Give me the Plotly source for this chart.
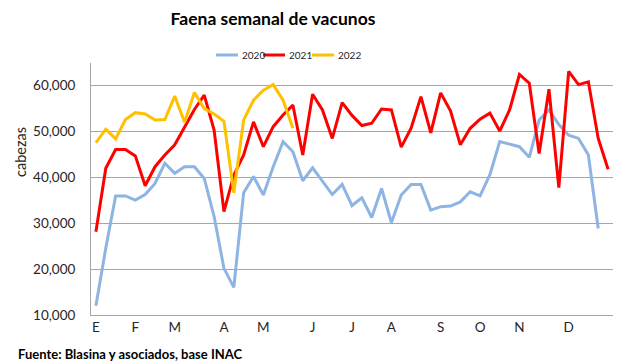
import plotly.graph_objects as go

weeks_2020 = list(range(52))
weeks_2021 = list(range(53))
weeks_2022 = list(range(21))

v2020 = [12000, 24500, 35900, 35900, 35000, 36200, 38600, 43000, 40800, 42250,
         42250, 39700, 31400, 20150, 16000, 36600, 40100, 36100, 42250, 47700,
         45500, 39200, 42000, 39200, 36200, 38400, 33800, 35500, 31200, 37500,
         30100, 36100, 38400, 38400, 32800, 33550, 33700, 34600, 36800, 35900,
         40500, 47700, 47100, 46600, 44300, 52400, 54600, 51400, 49100, 48400,
         44800, 28800]

v2021 = [28100, 41900, 46000, 46000, 44600, 38100, 42250, 44800, 47000, 50950,
         54700, 57800, 50200, 32500, 40400, 44800, 52000, 46600, 50950, 53500,
         55650, 44800, 58000, 54600, 48400, 56200, 53400, 51200, 51700, 54800,
         54600, 46500, 50600, 57500, 49600, 58300, 54400, 47000, 50600, 52600,
         53900, 50000, 54600, 62300, 60400, 45100, 59100, 37700, 63000, 60100,
         60700, 48400, 41700]

v2022 = [47500, 50400, 48300, 52500, 54000, 53700, 52400, 52500, 57600, 51900,
         58400, 54900, 53700, 52100, 36600, 52400, 56700, 58900, 60100, 56700,
         50600]

tick_weeks = [0, 4, 8, 13, 17, 22, 26, 30, 35, 39, 43, 48]
tick_labels = ["E", "F", "M", "A", "M", "J", "J", "A", "S", "O", "N", "D"]
y_ticks = [10000, 20000, 30000, 40000, 50000, 60000]

series_names = ["2020", "2021", "2022"]
series_colors = ["#8DB4E2", "#FF0000", "#FFC000"]

FONT = "Lato"
TXT = "#262626"
W, H = 640, 364
L, R, T, B = 91, 27, 63, 49
PW, PH = W - L - R, H - T - B


def px_x(px):
    return (px - L) / PW


def px_y(py):
    return (H - B - py) / PH


fig = go.Figure()
for xs, ys, name, color in zip([weeks_2020, weeks_2021, weeks_2022],
                               [v2020, v2021, v2022], series_names, series_colors):
    fig.add_trace(go.Scatter(x=xs, y=ys, mode="lines", name=name,
                             line=dict(color=color, width=3)))

fig.update_layout(
    width=W, height=H,
    margin=dict(l=L, r=R, t=T, b=B),
    paper_bgcolor="white", plot_bgcolor="white",
    font=dict(family=FONT, color=TXT, size=13),
    title=dict(text="<b>Faena semanal de vacunos</b>", x=273/W, xanchor="center",
               xref="container", y=1-19/H, yref="container", yanchor="middle",
               font=dict(family=FONT, size=17.5, color="#000000")),
    showlegend=False,
)
fig.update_xaxes(range=[-0.5, 52.5], tickvals=tick_weeks, ticktext=tick_labels,
                 showgrid=False, zeroline=False, showline=True, linecolor="#A6A6A6",
                 linewidth=1, ticks="", tickfont=dict(size=13.5, color=TXT))
fig.update_yaxes(range=[10000, 64800], tickvals=y_ticks, tickformat=",",
                 showgrid=True, gridcolor="#A6A6A6", gridwidth=1, zeroline=False,
                 showline=True, linecolor="#A6A6A6", linewidth=1, ticks="",
                 ticklabelstandoff=12,
                 tickfont=dict(size=13.5, color=TXT))

# legend (drawn as line samples + labels, matching the compact original)
leg_starts = [216, 263, 312]
for x0, name, color in zip(leg_starts, series_names, series_colors):
    fig.add_shape(type="line", xref="paper", yref="paper",
                  x0=px_x(x0), x1=px_x(x0 + 22), y0=px_y(55), y1=px_y(55),
                  line=dict(color=color, width=3))
    fig.add_annotation(text=name, xref="paper", yref="paper",
                       x=px_x(x0 + 24), y=px_y(55), xanchor="left", yanchor="middle",
                       showarrow=False, font=dict(family=FONT, size=10, color=TXT))

fig.add_annotation(text="cabezas", textangle=-90, xref="paper", yref="paper",
                   x=px_x(20), y=px_y(152), xanchor="center", yanchor="middle",
                   showarrow=False, font=dict(family=FONT, size=14.5, color=TXT))
fig.add_annotation(text="<b>Fuente: Blasina y asociados, base INAC</b>", xref="paper",
                   yref="paper", x=px_x(16), y=px_y(354), xanchor="left",
                   yanchor="middle", showarrow=False,
                   font=dict(family=FONT, size=13, color="#000000"))

fig.write_html("out.html", config={"displayModeBar": False},
               post_script="document.body.style.margin='0';document.body.style.overflow='hidden';")
